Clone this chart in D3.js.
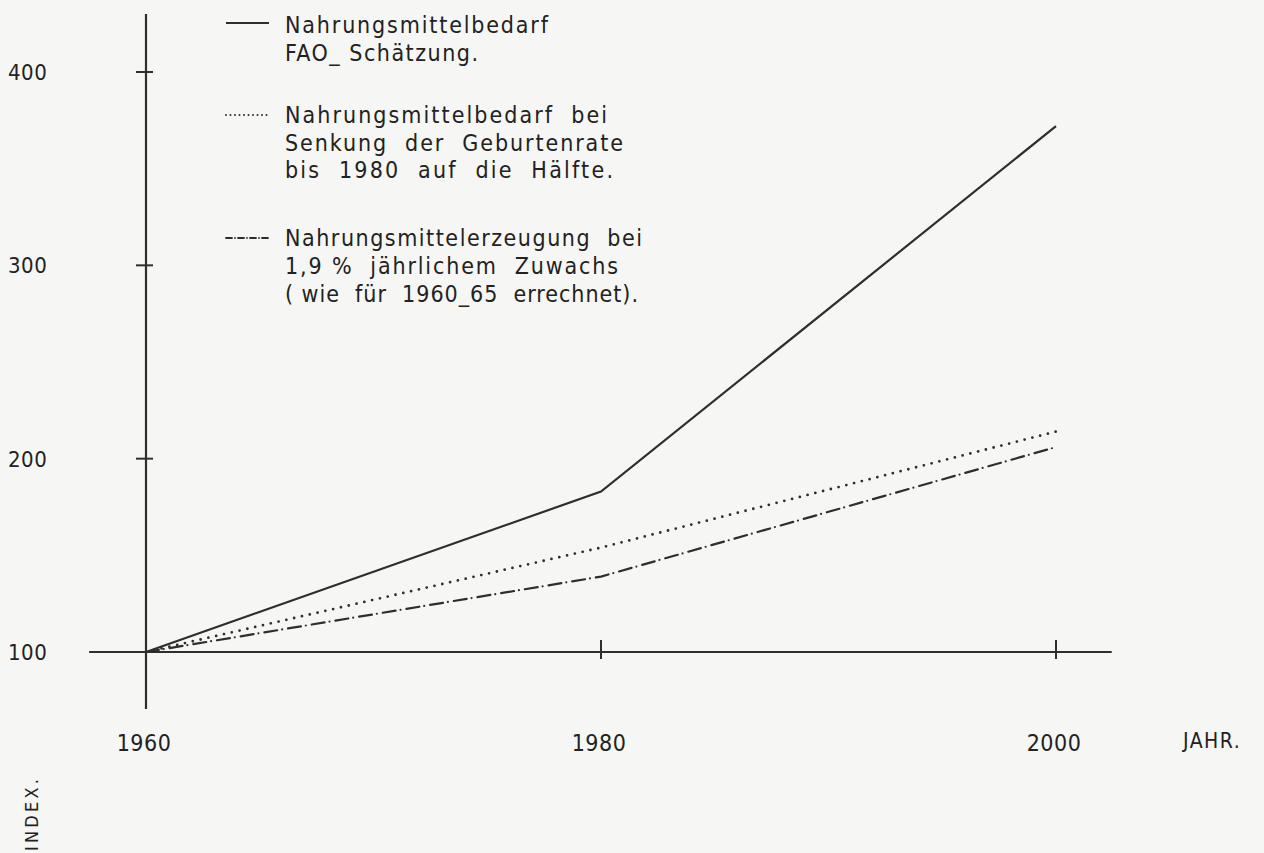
<!DOCTYPE html>
<html>
<head>
<meta charset="utf-8">
<script src="https://cdn.jsdelivr.net/npm/d3@7"></script>
<style>
  html, body { margin: 0; padding: 0; background: #f6f6f4; }
  svg { display: block; }
  text { font-family: "DejaVu Sans Condensed", "DejaVu Sans", sans-serif; font-stretch: condensed; fill: #222; white-space: pre; }
</style>
</head>
<body>
<svg id="chart" width="1264" height="853"></svg>
<script>
// values (index, 1960 = 100)
const years = [1960, 1980, 2000];
const bedarfFAO = [100, 183, 372];
const bedarfSenkung = [100, 154, 214];
const erzeugung = [100, 139, 206];

const yTicks = [100, 200, 300, 400];
const xTicks = [1960, 1980, 2000];

const legendLines = [
  ['Nahrungsmittelbedarf', 'FAO_ Schätzung.'],
  ['Nahrungsmittelbedarf  bei', 'Senkung  der  Geburtenrate', 'bis  1980  auf  die  Hälfte.'],
  ['Nahrungsmittelerzeugung  bei', '1,9 %  jährlichem  Zuwachs', '( wie  für  1960_65  errechnet).']
];

const svg = d3.select('#chart');
const ink = '#2e2e2e';

const x = d3.scaleLinear().domain([1960, 2000]).range([146, 1056]);
const y = d3.scaleLinear().domain([100, 400]).range([652, 72]);

// axes drawn past the data range, like the original drawing
svg.append('line')
  .attr('x1', x(1957.5)).attr('x2', x(2002.45))
  .attr('y1', y(100)).attr('y2', y(100))
  .attr('stroke', ink).attr('stroke-width', 2.2);
svg.append('line')
  .attr('x1', x(1960)).attr('x2', x(1960))
  .attr('y1', y(430)).attr('y2', y(70.5))
  .attr('stroke', ink).attr('stroke-width', 2.2);

// y ticks cross the axis
svg.selectAll('.ytick').data(yTicks.filter(d => d > 100)).enter().append('line')
  .attr('x1', x(1960) - 10).attr('x2', x(1960) + 7)
  .attr('y1', d => y(d)).attr('y2', d => y(d))
  .attr('stroke', ink).attr('stroke-width', 2);
svg.selectAll('.ylab').data(yTicks).enter().append('text')
  .attr('x', 8).attr('y', d => y(d) + 8)
  .attr('font-size', 22)
  .attr('letter-spacing', 0.5)
  .text(d => d);

svg.selectAll('.xtick').data(xTicks.filter(d => d > 1960)).enter().append('line')
  .attr('x1', d => x(d)).attr('x2', d => x(d))
  .attr('y1', y(100) - 12).attr('y2', y(100) + 7)
  .attr('stroke', ink).attr('stroke-width', 2);
svg.selectAll('.xlab').data(xTicks).enter().append('text')
  .attr('x', d => x(d) - 2).attr('y', 751)
  .attr('text-anchor', 'middle')
  .attr('font-size', 23)
  .attr('letter-spacing', 0.5)
  .text(d => d);

svg.append('text')
  .attr('x', 1183).attr('y', 748)
  .attr('font-size', 21).attr('letter-spacing', 1.5)
  .text('JAHR.');

svg.append('text')
  .attr('transform', 'translate(38,779) rotate(-90)')
  .attr('text-anchor', 'end')
  .attr('font-size', 18)
  .attr('textLength', 72).attr('lengthAdjust', 'spacing')
  .text('INDEX.');

// series
const line = d3.line().x((d, i) => x(years[i])).y(d => y(d));
const styles = [
  { data: bedarfFAO, dash: null, cap: 'butt', w: 2.2 },
  { data: bedarfSenkung, dash: '0 8', cap: 'round', w: 2.8 },
  { data: erzeugung, dash: '13 5 0 6', cap: 'round', w: 2.2 }
];
styles.forEach(s => {
  svg.append('path')
    .attr('d', line(s.data))
    .attr('fill', 'none')
    .attr('stroke', ink)
    .attr('stroke-width', s.w)
    .attr('stroke-linecap', s.cap)
    .attr('stroke-dasharray', s.dash);
});

// legend
const legendSampleY = [23, 115, 238];
const legendBaselines = [[33, 61], [123, 151, 178], [246, 274, 302]];
const legendWidths = [[263, 193], [322, 338, 328], [357, 333, 353]];
const legendDash = [null, '0 4.5', '6 3 0 3'];

legendLines.forEach((rows, k) => {
  svg.append('line')
    .attr('x1', 226).attr('x2', 269)
    .attr('y1', legendSampleY[k]).attr('y2', legendSampleY[k])
    .attr('stroke', ink)
    .attr('stroke-width', k === 1 ? 2 : 1.8)
    .attr('stroke-linecap', k === 0 ? 'butt' : 'round')
    .attr('stroke-dasharray', legendDash[k]);
  rows.forEach((r, j) => {
    svg.append('text')
      .attr('x', 285).attr('y', legendBaselines[k][j])
      .attr('font-size', 23)
      .attr('textLength', legendWidths[k][j]).attr('lengthAdjust', 'spacing')
      .text(r);
  });
});
</script>
</body>
</html>
